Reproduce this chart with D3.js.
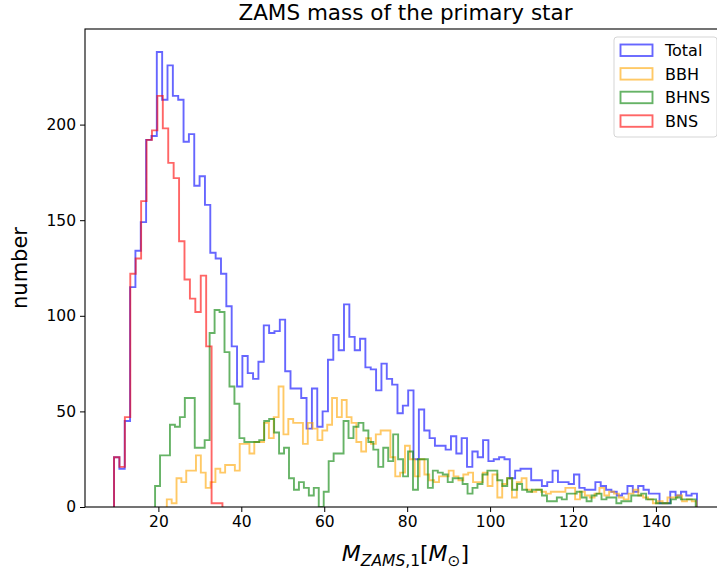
<!DOCTYPE html>
<html><head><meta charset="utf-8">
<script src="https://cdn.jsdelivr.net/npm/d3@7"></script>
<style>body{margin:0;background:#fff;} text{font-family:"DejaVu Sans",sans-serif;}</style>
</head><body><svg id="c" width="717" height="571"></svg>
<script>
// ---------- data ----------
const binCount = 109;
const totalRange = [9.3, 149.9];
const bbhRange   = [22.03, 149.82];
const bhnsRange  = [19.2, 149.6];
const bnsRange   = [9.3, 151.8];

const totalCounts = [26,20,45,115,134,149,192,194,238,213,
  231,215,213,191,195,168,173,158,133,130,
  122,105,84,63,79,70,67,76,95,91,
  92,98,71,62,62,57,41,62,42,50,
  77,90,82,106,89,82,88,73,72,61,
  75,67,64,49,53,61,25,51,40,36,
  32,32,30,37,28,36,21,29,26,35,
  24,25,26,25,15,19,20,20,14,14,
  11,13,19,13,13,12,17,10,9,9,
  13,11,9,8,6,7,11,8,11,9,
  7,7,2,2,8,6,8,6,7];
const bbhCounts = [4,2,15,13,19,19,27,18,10,13,
  20,18,22,22,19,33,33,28,34,34,
  44,36,47,63,38,46,44,44,33,44,
  41,35,40,43,57,47,56,47,44,34,
  29,36,33,38,40,40,26,16,18,32,
  25,16,25,17,14,13,16,16,19,16,
  14,17,18,13,13,18,11,17,5,12,
  15,5,13,15,9,8,9,8,7,8,
  8,8,10,10,4,8,6,5,7,10,
  6,8,7,5,4,7,9,6,5,4,
  2,3,2,5,5,6,3,4,3];
const bhnsCounts = [11,27,27,43,42,47,57,57,31,31,
  35,91,103,102,81,63,54,36,34,34,
  34,35,45,46,39,28,31,15,9,13,
  10,6,10,0,8,24,28,28,45,36,
  42,44,40,34,30,21,31,24,38,25,
  16,29,9,25,25,10,19,18,17,13,
  15,15,12,7,10,12,17,19,19,14,
  11,15,9,12,9,8,9,9,6,3,
  3,5,4,7,7,8,5,3,6,7,
  4,5,5,2,3,3,6,6,7,4,
  4,2,2,2,4,5,4,4,4];
const bnsCounts = [26,21,47,122,130,160,192,197,215,198,180,172,139,119,109,102,121,84,2,2];

const seriesNames  = ["Total","BBH","BHNS","BNS"];
const seriesColors = ["#0000ff","#ffa500","#008000","#ff0000"];
const xTicks = [20,40,60,80,100,120,140];
const yTicks = [0,50,100,150,200];
const titleText = "ZAMS mass of the primary star";
const yLabelText = "number";

// ---------- chart ----------
const svg = d3.select("#c");
const L = 85, T = 29, R = 726, B = 507;
const x = d3.scaleLinear().domain([2.3, 156.9]).range([L, R]);
const y = d3.scaleLinear().domain([0, 250]).range([B, T]);

svg.append("defs").append("clipPath").attr("id","clip")
  .append("rect").attr("x",L).attr("y",T).attr("width",R-L).attr("height",B-T);

function stepPoints(range, counts){
  const w = (range[1]-range[0])/binCount;
  const pts = [[range[0],0]];
  counts.forEach((c,i)=>{ pts.push([range[0]+i*w, c]); pts.push([range[0]+(i+1)*w, c]); });
  pts.push([range[0]+counts.length*w, 0]);
  return pts;
}
const line = d3.line().x(d=>x(d[0])).y(d=>y(d[1]));
const series = [
  {range: totalRange, counts: totalCounts},
  {range: bbhRange, counts: bbhCounts},
  {range: bhnsRange, counts: bhnsCounts},
  {range: bnsRange, counts: bnsCounts}
];
const g = svg.append("g").attr("clip-path","url(#clip)");
series.forEach((s,i)=>{
  g.append("path").attr("d", line(stepPoints(s.range, s.counts)))
    .attr("fill","none").attr("stroke", seriesColors[i]).attr("stroke-opacity",0.6)
    .attr("stroke-width",1.9).attr("stroke-linejoin","miter");
});

// axes
const xAxis = d3.axisBottom(x).tickValues(xTicks).tickSize(5).tickPadding(4).tickFormat(d3.format("d"));
const yAxis = d3.axisLeft(y).tickValues(yTicks).tickSize(5).tickPadding(4).tickFormat(d3.format("d"));
const gx = svg.append("g").attr("transform",`translate(0,${B})`).call(xAxis);
const gy = svg.append("g").attr("transform",`translate(${L},0)`).call(yAxis);
[gx,gy].forEach(a=>{
  a.select(".domain").remove();
  a.selectAll(".tick line").attr("stroke","#000").attr("stroke-width",1);
  a.selectAll(".tick text").attr("fill","#000").style("font-size","15.5px").style("font-family","DejaVu Sans");
});

// spines
svg.append("rect").attr("x",L).attr("y",T).attr("width",R-L).attr("height",B-T)
  .attr("fill","none").attr("stroke","#000").attr("stroke-width",1.1);

// title & labels
svg.append("text").attr("x",(L+R)/2).attr("y",20).attr("text-anchor","middle")
  .style("font-size","21.5px").text(titleText);
svg.append("text").attr("transform",`translate(27,${(T+B)/2}) rotate(-90)`).attr("text-anchor","middle")
  .style("font-size","21px").text(yLabelText);

const xl = svg.append("text").attr("x",(L+R)/2).attr("y",561).attr("text-anchor","middle").style("font-size","22px");
xl.append("tspan").attr("font-style","italic").text("M");
xl.append("tspan").attr("font-style","italic").attr("font-size","15.5px").attr("dy",4.5).text("ZAMS");
xl.append("tspan").attr("font-size","15.5px").text(",1");
xl.append("tspan").attr("dy",-4.5).text("[");
xl.append("tspan").attr("font-style","italic").text("M");
xl.append("tspan").attr("font-size","15.5px").attr("dy",4.5).text("\u2299");
xl.append("tspan").attr("dy",-4.5).text("]");

// legend
const lg = svg.append("g");
lg.append("rect").attr("x",614).attr("y",37).attr("width",103).attr("height",100).attr("rx",3)
  .attr("fill","#fff").attr("fill-opacity",0.8).attr("stroke","#d5d5d5").attr("stroke-width",1);
seriesNames.forEach((n,i)=>{
  const cy = 50.5 + i*23.6;
  lg.append("rect").attr("x",620.5).attr("y",cy-6).attr("width",32).attr("height",11.5)
    .attr("fill","none").attr("stroke",seriesColors[i]).attr("stroke-opacity",0.6).attr("stroke-width",1.9);
  lg.append("text").attr("x",665).attr("y",cy+5.5).style("font-size","16px").text(n);
});
</script></body></html>
